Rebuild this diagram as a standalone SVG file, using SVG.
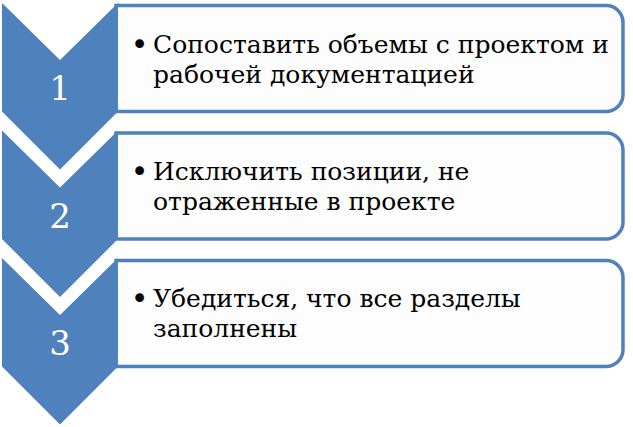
<svg xmlns="http://www.w3.org/2000/svg" width="633" height="427" viewBox="0 0 633 427">
<style>
.box{fill:#FDFDFD;stroke:#4F81BD;stroke-width:3.5}
.chev{fill:#4F81BD}
.num{font-family:"DejaVu Serif","Liberation Serif",serif;font-size:34px;fill:#FFFFFF;text-anchor:middle}
.txt{font-family:"DejaVu Serif","Liberation Serif",serif;font-size:25px;fill:#000000}
.bul{font-family:"DejaVu Sans","Liberation Sans",sans-serif;font-size:30px;fill:#000000;text-anchor:middle}
</style>
<rect width="633" height="427" fill="#FFFFFF"/>
<g id="step1">
<path class="box" d="M116,5.5 H606 A17,17 0 0 1 623,22.5 V94.5 A17,17 0 0 1 606,111.5 H116 Z"/>
<polygon class="chev" points="2,3 60,60 118,3 118,111.5 60,169.5 2,111.5"/>
<text class="num" x="60" y="100">1</text>
<text class="bul" x="139.5" y="55">•</text>
<text class="txt" x="153" y="53">Сопоставить объемы с проектом и</text>
<text class="txt" x="153" y="83">рабочей документацией</text>
</g>
<g id="step2">
<path class="box" d="M116,133 H606 A17,17 0 0 1 623,150 V222 A17,17 0 0 1 606,239 H116 Z"/>
<polygon class="chev" points="2,130.5 60,187.5 118,130.5 118,239 60,297 2,239"/>
<text class="num" x="60" y="227.5">2</text>
<text class="bul" x="139.5" y="182">•</text>
<text class="txt" x="153" y="180">Исключить позиции, не</text>
<text class="txt" x="153" y="210">отраженные в проекте</text>
</g>
<g id="step3">
<path class="box" d="M116,260.5 H606 A17,17 0 0 1 623,277.5 V349.5 A17,17 0 0 1 606,366.5 H116 Z"/>
<polygon class="chev" points="2,258 60,315 118,258 118,366.5 60,424.5 2,366.5"/>
<text class="num" x="60" y="355">3</text>
<text class="bul" x="139.5" y="309">•</text>
<text class="txt" x="153" y="307">Убедиться, что все разделы</text>
<text class="txt" x="153" y="337">заполнены</text>
</g>
<g id="connectors"></g>
</svg>
